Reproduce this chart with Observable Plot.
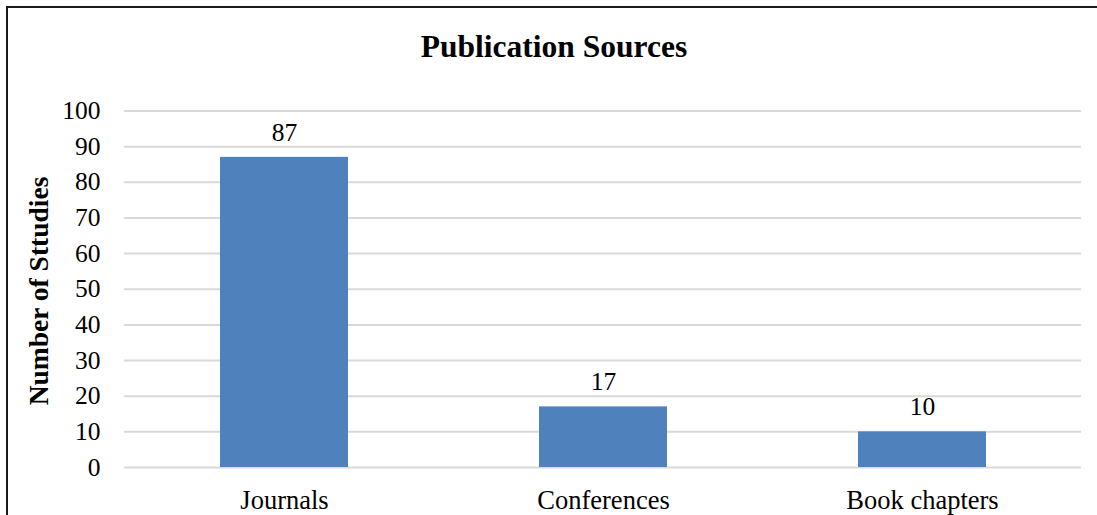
<!DOCTYPE html>
<html>
<head>
<meta charset="utf-8">
<script src="https://cdn.jsdelivr.net/npm/d3@7"></script>
<script src="https://cdn.jsdelivr.net/npm/@observablehq/plot@0.6"></script>
<style>
  html, body { margin: 0; padding: 0; background: #fff; overflow: hidden; }
  #wrap { position: relative; width: 1097px; height: 515px; overflow: hidden; font-family: "Liberation Serif", "Times New Roman", serif; }
  #frame { position: absolute; left: 6px; top: 6px; width: 1300px; height: 700px; border: 2px solid #1a1a1a; box-sizing: border-box; }
  #chart { position: absolute; left: 0; top: 0; }
  #title { position: absolute; left: 0; width: 1108px; top: 31px; text-align: center; font-size: 31.5px; font-weight: bold; line-height: 31px; color: #000; white-space: nowrap; }
  #ylabel { position: absolute; left: 38px; top: 291px; transform: translate(-50%, -50%) rotate(-90deg); font-size: 27.5px; font-weight: bold; line-height: 27px; white-space: nowrap; color: #000; }
</style>
</head>
<body>
<div id="wrap">
  <div id="frame"></div>
  <div id="chart"></div>
  <div id="title"></div>
  <div id="ylabel"></div>
</div>
<script>
const titleText = "Publication Sources";
const yLabelText = "Number of Sttudies";
const categories = ["Journals", "Conferences", "Book chapters"];
const counts = [87, 17, 10];
const yTicks = [0, 10, 20, 30, 40, 50, 60, 70, 80, 90, 100];

const data = categories.map((c, i) => ({category: c, value: counts[i]}));

document.getElementById("title").textContent = titleText;
document.getElementById("ylabel").textContent = yLabelText;

const chart = Plot.plot({
  width: 1097,
  height: 515,
  marginLeft: 124,
  marginRight: 16,
  marginTop: 110.5,
  marginBottom: 48,
  style: {fontFamily: "'Liberation Serif', 'Times New Roman', serif", color: "#000", background: "transparent", overflow: "visible"},
  x: {domain: categories, paddingInner: 0.6, paddingOuter: 0.3, label: null},
  y: {domain: [0, 100], label: null},
  marks: [
    Plot.gridY(yTicks, {stroke: "#d9d9d9", strokeOpacity: 1, strokeWidth: 2}),
    Plot.barY(data, {x: "category", y: "value", fill: "#4f81bd"}),
    Plot.text(data, {x: "category", y: "value", text: d => String(d.value), dy: -25, fontSize: 25.5, fill: "#000"}),
    Plot.axisY(yTicks, {tickSize: 0, tickPadding: 24, fontSize: 25.5, label: null}),
    Plot.axisX({tickSize: 0, tickPadding: 22.5, fontSize: 26.5, label: null})
  ]
});
document.getElementById("chart").appendChild(chart);
</script>
</body>
</html>
